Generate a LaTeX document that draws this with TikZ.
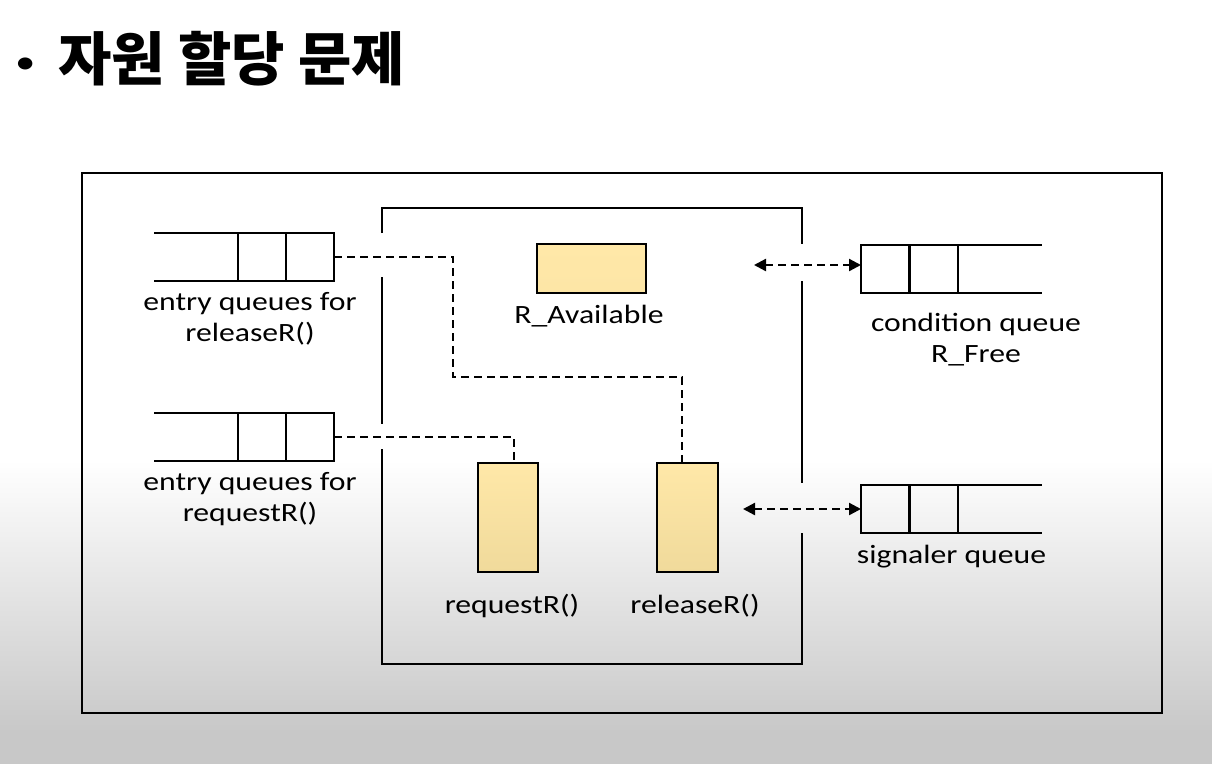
\documentclass[tikz,border=0pt]{standalone}
\usepackage{fontspec}
\setmainfont{Carlito}[FakeStretch=1.2]
\newfontfamily\titlefont{Noto Sans CJK KR}
\usetikzlibrary{arrows.meta}
\definecolor{bggray}{RGB}{200,200,200}
\definecolor{ylwtop}{RGB}{255,232,168}
\definecolor{ylwbot}{RGB}{240,218,155}
\tikzset{
  bline/.style={line width=2.3pt},
  qcells/.style={draw, line width=2.3pt, minimum width=96pt, minimum height=48pt, inner sep=0pt, outer sep=0pt},
  ybox/.style={draw, line width=2.3pt, inner sep=0pt, outer sep=0pt, top color=ylwtop, bottom color=ylwbot},
  dashline/.style={line width=2.3pt, dash pattern=on 8pt off 5pt},
  dblarrow/.style={line width=2.3pt, dash pattern=on 8pt off 5pt, {Triangle[length=12pt,width=12pt]}-{Triangle[length=12pt,width=12pt]}},
  lbl/.style={font=\fontsize{26.4}{31}\selectfont, align=center, inner sep=0pt, anchor=base},
}
\begin{document}
\begin{tikzpicture}[x=1pt,y=-1pt]
\useasboundingbox (0,0) rectangle (1212,764);
\fill[white] (0,0) rectangle (1212,764);
\shade[top color=white,bottom color=bggray] (0,460) rectangle (1212,732);
\fill[bggray] (0,731) rectangle (1212,764);

% title
\node[anchor=base west, inner sep=0pt, font=\fontsize{58}{60}\selectfont] (title) at (15,80) {\makebox[43pt][l]{\raisebox{7pt}{\fontsize{34}{34}\selectfont •}}{\titlefont\bfseries 자원 할당 문제}};

% outer box
\draw[bline] (82,173) rectangle (1162,713);

% monitor box
\draw[bline] (382,233) -- (382,208) -- (802,208) -- (802,244);
\draw[bline] (382,277) -- (382,424);
\draw[bline] (382,449) -- (382,664) -- (802,664) -- (802,533);
\draw[bline] (802,281) -- (802,483);

% entry queues
\node[qcells] (q1) at (286,257) {};
\draw[bline] (q1.north) -- (q1.south);
\draw[bline] (q1.north west) -- ++(-84,0);
\draw[bline] (q1.south west) -- ++(-84,0);
\node[qcells] (q2) at (286,437) {};
\draw[bline] (q2.north) -- (q2.south);
\draw[bline] (q2.north west) -- ++(-84,0);
\draw[bline] (q2.south west) -- ++(-84,0);

% condition queue and signaler queue
\node[qcells, minimum width=97pt] (cq) at (909.5,269) {};
\draw[bline] (cq.north) -- (cq.south);
\draw[bline] (cq.north east) -- ++(84,0);
\draw[bline] (cq.south east) -- ++(84,0);
\node[qcells, minimum width=97pt] (sq) at (909.5,509) {};
\draw[bline] (sq.north) -- (sq.south);
\draw[bline] (sq.north east) -- ++(84,0);
\draw[bline] (sq.south east) -- ++(84,0);

% yellow boxes
\node[ybox, minimum width=109pt, minimum height=49pt, top color=ylwtop, bottom color=ylwtop!85!ylwbot] (ravail) at (591.5,268.5) {};
\node[ybox, minimum width=60pt, minimum height=109pt] (reqbox) at (508,517.5) {};
\node[ybox, minimum width=61pt, minimum height=109pt] (relbox) at (687.5,517.5) {};

% dashed connectors
\draw[dashline] (q1.east) -| (453,377) -| ([xshift=-5.5pt]relbox.north);
\draw[dashline] (q2.east) -| ([xshift=6pt]reqbox.north);

% double arrows
\coordinate (a1) at (754,265);
\coordinate (a2) at (743,509);
\draw[dblarrow] (a1) -- (a1 -| cq.west);
\draw[dblarrow] (a2) -- (sq.west);

% labels
\node[lbl] (l1) at (250,341) {entry queues for\\releaseR()};
\node[lbl] (l2) at (250,521) {entry queues for\\requestR()};
\node[lbl] (l3) at (589,323) {R\_Available};
\node[lbl] (l4) at (976,362) {condition queue\\R\_Free};
\node[lbl] (l5) at (951.5,563) {signaler queue};
\node[lbl] (l6) at (512,613) {requestR()};
\node[lbl] (l7) at (695,613) {releaseR()};
\end{tikzpicture}
\end{document}
